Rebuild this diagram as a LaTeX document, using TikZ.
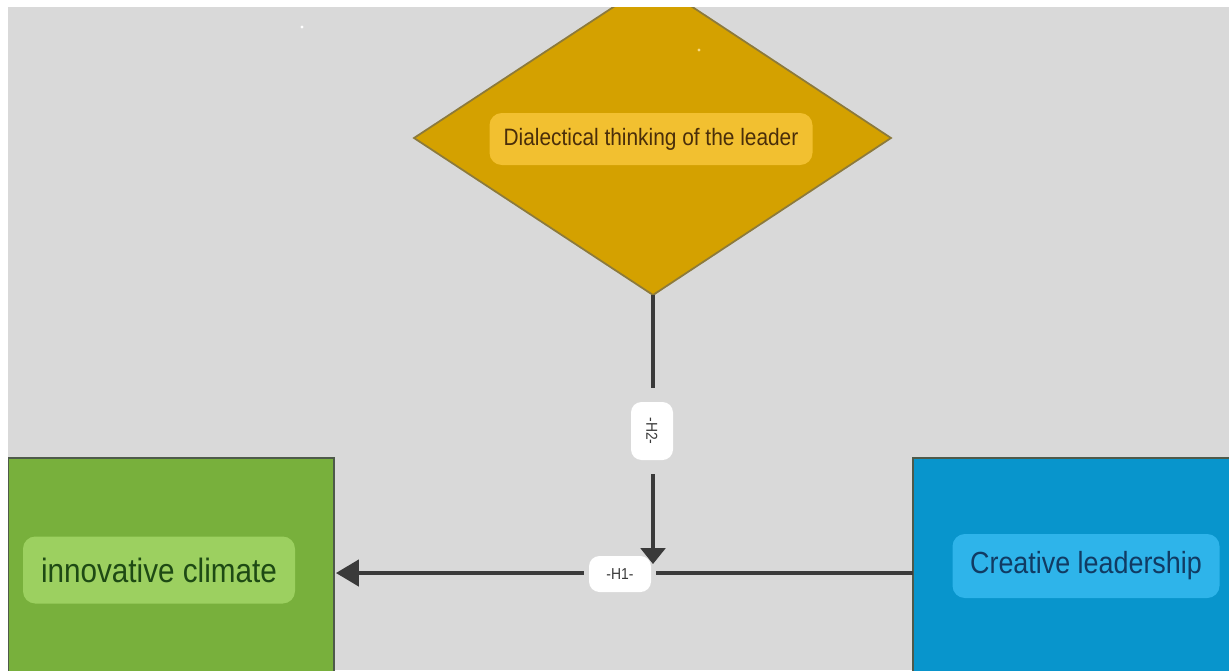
\documentclass[tikz,border=0pt]{standalone}
\usepackage{fontspec}
\setmainfont{Liberation Sans}
\newfontfamily\condf[FakeStretch=0.88]{Liberation Sans}
\usetikzlibrary{shapes.geometric,arrows.meta}
\definecolor{bgc}{HTML}{D9D9D9}
\definecolor{goldc}{HTML}{D4A100}
\definecolor{goldb}{HTML}{8C7A3C}
\definecolor{goldl}{HTML}{F2C030}
\definecolor{goldt}{HTML}{4A2E0A}
\definecolor{greenc}{HTML}{78B03C}
\definecolor{greenl}{HTML}{9CD060}
\definecolor{greent}{HTML}{1E4A14}
\definecolor{bluec}{HTML}{0895CC}
\definecolor{bluel}{HTML}{2EB4EA}
\definecolor{bluet}{HTML}{113B63}
\definecolor{boxb}{HTML}{4E5A4A}
\definecolor{arrc}{HTML}{3A3A3A}
\tikzset{
  lbl/.style={rounded corners=7pt, inner sep=0pt, anchor=center},
  conn/.style={draw=arrc, line width=1.8pt},
  tag/.style={fill=white, rounded corners=6pt, inner sep=0pt, font=\condf\fontsize{9}{10}\selectfont, text=arrc},
  gap/.style={fill=bgc, inner sep=0pt},
}
\begin{document}
\begin{tikzpicture}[x=0.02cm,y=-0.02cm]
\useasboundingbox (0,0) rectangle (1229,670);
\fill[white] (0,0) rectangle (1229,670);
\fill[bgc] (8,7) rectangle (1229,670);
\begin{scope}
\clip (8,7) rectangle (1229,670);
% diamond
\draw[goldb, fill=goldc, line width=1pt] (414,138) -- (653,-19) -- (891,138) -- (653,295) -- cycle;
\coordinate (dbot) at (653,295);
% boxes
\draw[boxb, fill=greenc, line width=1pt] (8,458) rectangle (334,700);
\draw[boxb, fill=bluec, line width=1pt] (913,458) rectangle (1260,700);
\end{scope}
\coordinate (gright) at (336,573);
\coordinate (bleft) at (913,573);
\coordinate (vend) at (653,564);
% labels
\node[lbl, fill=goldl, minimum width=323*0.02cm, minimum height=52*0.02cm, text=goldt, font=\condf\fontsize{13.5}{15}\selectfont] (dt) at (651,139) {Dialectical thinking of the leader};
\node[lbl, fill=greenl, minimum width=272*0.02cm, minimum height=67*0.02cm, text=greent, font=\condf\fontsize{19.2}{21}\selectfont] (ic) at (159,570) {innovative climate};
\node[lbl, fill=bluel, minimum width=267*0.02cm, minimum height=64*0.02cm, text=bluet, font=\condf\fontsize{17.4}{19}\selectfont] (cl) at (1086,566) {Creative leadership};
% dots
\fill[white] (302,27) circle (1.6);
\fill[goldl!60!white] (699,50) circle (1.6);
% horizontal connector with its label
\draw[conn, -{Triangle[length=13pt,width=15pt]}] (bleft) -- (gright);
\node[gap, minimum width=72*0.02cm, minimum height=30*0.02cm] at (620,574) {};
\node[tag, minimum width=62*0.02cm, minimum height=36*0.02cm] (h1) at (620,574) {-H1-};
% vertical connector with its label
\draw[conn, -{Triangle[length=9pt,width=14pt]}] (dbot) -- (vend);
\node[gap, minimum width=30*0.02cm, minimum height=86*0.02cm] at (652,431) {};
\node[tag, rotate=-90, minimum width=58*0.02cm, minimum height=42*0.02cm] (h2) at (652,431) {-H2-};
\end{tikzpicture}
\end{document}
